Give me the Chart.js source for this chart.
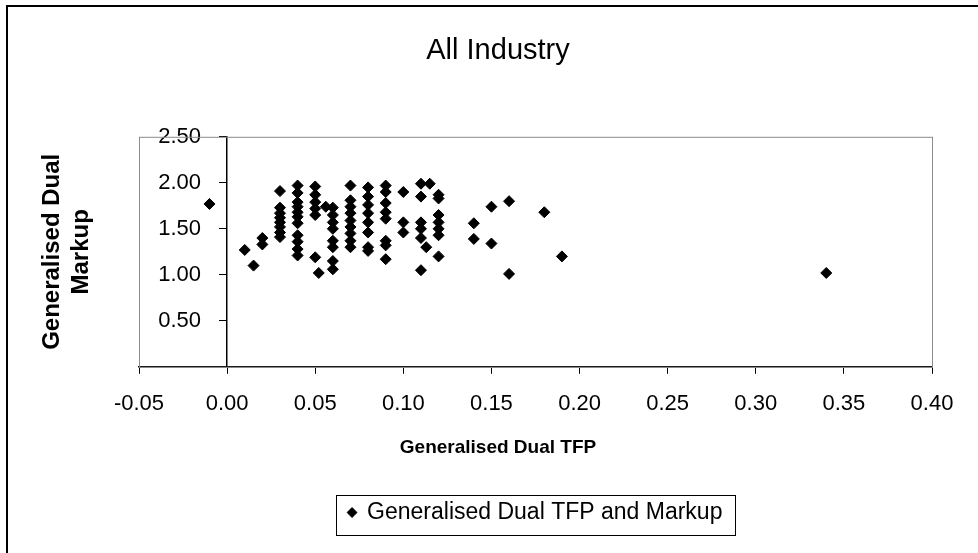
<!DOCTYPE html>
<html>
<head>
<meta charset="utf-8">
<script src="https://cdn.jsdelivr.net/npm/chart.js@4.4.1/dist/chart.umd.min.js"></script>
<style>
  html, body { margin: 0; padding: 0; background: #fff; }
  #wrap { width: 978px; height: 553px; }
</style>
</head>
<body>
<div id="wrap"><canvas id="scatter" width="978" height="553"></canvas></div>
<script>
// Generalised Dual TFP (x) and Markup (y)
const tfp = [
  -0.01, 0.01, 0.015, 0.02, 0.02,
  0.03, 0.03, 0.03, 0.03, 0.03, 0.03, 0.03, 0.03,
  0.04, 0.04, 0.04, 0.04, 0.04, 0.04, 0.04, 0.04, 0.04, 0.04, 0.04,
  0.05, 0.05, 0.05, 0.05, 0.05, 0.05, 0.052, 0.056,
  0.06, 0.06, 0.06, 0.06, 0.06, 0.06, 0.06, 0.06,
  0.07, 0.07, 0.07, 0.07, 0.07, 0.07, 0.07, 0.07, 0.07,
  0.08, 0.08, 0.08, 0.08, 0.08, 0.08, 0.08, 0.08,
  0.09, 0.09, 0.09, 0.09, 0.09, 0.09, 0.09, 0.09,
  0.10, 0.10, 0.10,
  0.11, 0.11, 0.11, 0.11, 0.11, 0.11, 0.113, 0.115,
  0.12, 0.12, 0.12, 0.12, 0.12, 0.12, 0.12,
  0.14, 0.14, 0.15, 0.15, 0.16, 0.16, 0.18, 0.19, 0.34
];
const markup = [
  1.77, 1.27, 1.10, 1.40, 1.33,
  1.91, 1.73, 1.67, 1.62, 1.57, 1.52, 1.46, 1.41,
  1.97, 1.89, 1.79, 1.74, 1.68, 1.63, 1.56, 1.43, 1.36, 1.28, 1.21,
  1.96, 1.87, 1.79, 1.72, 1.65, 1.19, 1.02, 1.74,
  1.73, 1.65, 1.57, 1.50, 1.37, 1.30, 1.15, 1.06,
  1.97, 1.81, 1.74, 1.67, 1.59, 1.52, 1.45, 1.37, 1.30,
  1.95, 1.85, 1.76, 1.67, 1.57, 1.46, 1.30, 1.26,
  1.97, 1.90, 1.78, 1.68, 1.61, 1.37, 1.32, 1.17,
  1.90, 1.57, 1.46,
  1.99, 1.85, 1.57, 1.50, 1.40, 1.05, 1.30, 1.99,
  1.87, 1.83, 1.65, 1.57, 1.50, 1.43, 1.20,
  1.56, 1.39, 1.74, 1.34, 1.80, 1.01, 1.68, 1.20, 1.02
];
const seriesName = 'Generalised Dual TFP and Markup';
const chartTitle = 'All Industry';
const xTitle = 'Generalised Dual TFP';
const yTitle = ['Generalised Dual', 'Markup'];

const points = tfp.map((x, i) => ({ x: x, y: markup[i] }));
const fmt = v => (Math.abs(v) < 1e-9 ? 0 : v).toFixed(2);

Chart.defaults.font.family = "'Liberation Sans', Arial, sans-serif";
Chart.defaults.color = '#000';

// white page, outer frame and grey plot box
const frame = {
  id: 'frame',
  beforeDraw(chart) {
    const ctx = chart.ctx;
    ctx.save();
    ctx.fillStyle = '#fff';
    ctx.fillRect(0, 0, chart.width, chart.height);
    ctx.strokeStyle = '#000';
    ctx.lineWidth = 2;
    ctx.beginPath();
    ctx.moveTo(7, chart.height);
    ctx.lineTo(7, 6);
    ctx.lineTo(chart.width, 6);
    ctx.stroke();
    ctx.restore();
  },
  beforeDatasetsDraw(chart) {
    const a = chart.chartArea, ctx = chart.ctx;
    ctx.save();
    ctx.strokeStyle = '#8c8c8c';
    ctx.lineWidth = 1;
    ctx.strokeRect(a.left + 0.5, a.top + 0.5, a.right - a.left, a.bottom - a.top);
    ctx.restore();
  }
};

// box round the legend
const legendBox = {
  id: 'legendBox',
  afterDraw(chart) {
    const hb = chart.legend.legendHitBoxes[0];
    if (!hb) return;
    const ctx = chart.ctx;
    ctx.save();
    ctx.strokeStyle = '#000';
    ctx.lineWidth = 1;
    ctx.strokeRect(Math.round(hb.left - 13) + 0.5, Math.round(hb.top - 6) + 0.5, Math.round(hb.width + 25), Math.round(hb.height + 17));
    ctx.restore();
  }
};

const hiddenAxis = {
  type: 'linear',
  ticks: { display: false },
  grid: { display: false },
  border: { display: false }
};

new Chart(document.getElementById('scatter'), {
  type: 'scatter',
  data: {
    datasets: [{
      label: seriesName,
      data: points,
      pointStyle: 'rectRot',
      pointRadius: 5.5,
      pointHoverRadius: 5.5,
      backgroundColor: '#000',
      borderColor: '#000',
      borderWidth: 1
    }]
  },
  options: {
    responsive: false,
    animation: false,
    events: [],
    layout: { padding: { left: 18, right: 0, top: 8, bottom: 19 } },
    scales: {
      x: {
        type: 'linear',
        position: 'bottom',
        min: -0.05,
        max: 0.40,
        ticks: { stepSize: 0.05, callback: v => fmt(v), font: { size: 22 }, padding: 17, maxRotation: 0, autoSkip: false },
        grid: { drawOnChartArea: false, tickLength: 7, color: '#000' },
        border: { color: '#000', width: 1.5 }
      },
      // value axis line and tick marks, crossing at x = 0
      y: {
        type: 'linear',
        position: { x: 0 },
        min: 0,
        max: 2.5,
        ticks: { stepSize: 0.5, display: false },
        grid: { drawOnChartArea: false, tickLength: 7, color: '#000' },
        border: { color: '#000', width: 1.5 }
      },
      // its tick labels, set a little left of the axis line
      yLabels: {
        type: 'linear',
        position: { x: -0.0148 },
        min: 0,
        max: 2.5,
        ticks: { stepSize: 0.5, callback: v => (v === 0 ? '' : fmt(v)), font: { size: 22 } },
        grid: { display: false },
        border: { display: false }
      },
      yTitle: {
        ...hiddenAxis,
        position: 'left',
        title: { display: true, text: yTitle, font: { size: 24, weight: 'bold' }, padding: { top: 20, bottom: 0 } },
        afterFit(s) { s.width = 121; }
      },
      yRight: {
        ...hiddenAxis,
        position: 'right',
        afterFit(s) { s.width = 46; }
      }
    },
    plugins: {
      title: {
        display: true,
        text: chartTitle,
        font: { size: 29, weight: 'normal' },
        padding: { top: 26, bottom: 68 }
      },
      subtitle: {
        display: true,
        position: 'bottom',
        weight: 500,
        text: xTitle,
        font: { size: 19, weight: 'bold' },
        padding: { top: 2, bottom: 32 }
      },
      legend: {
        position: 'bottom',
        fullSize: false,
        labels: {
          usePointStyle: true,
          pointStyle: 'rectRot',
          boxWidth: 7,
          boxHeight: 7,
          padding: 10,
          font: { size: 23 },
          color: '#000'
        }
      },
      tooltip: { enabled: false }
    }
  },
  plugins: [frame, legendBox]
});
</script>
</body>
</html>
